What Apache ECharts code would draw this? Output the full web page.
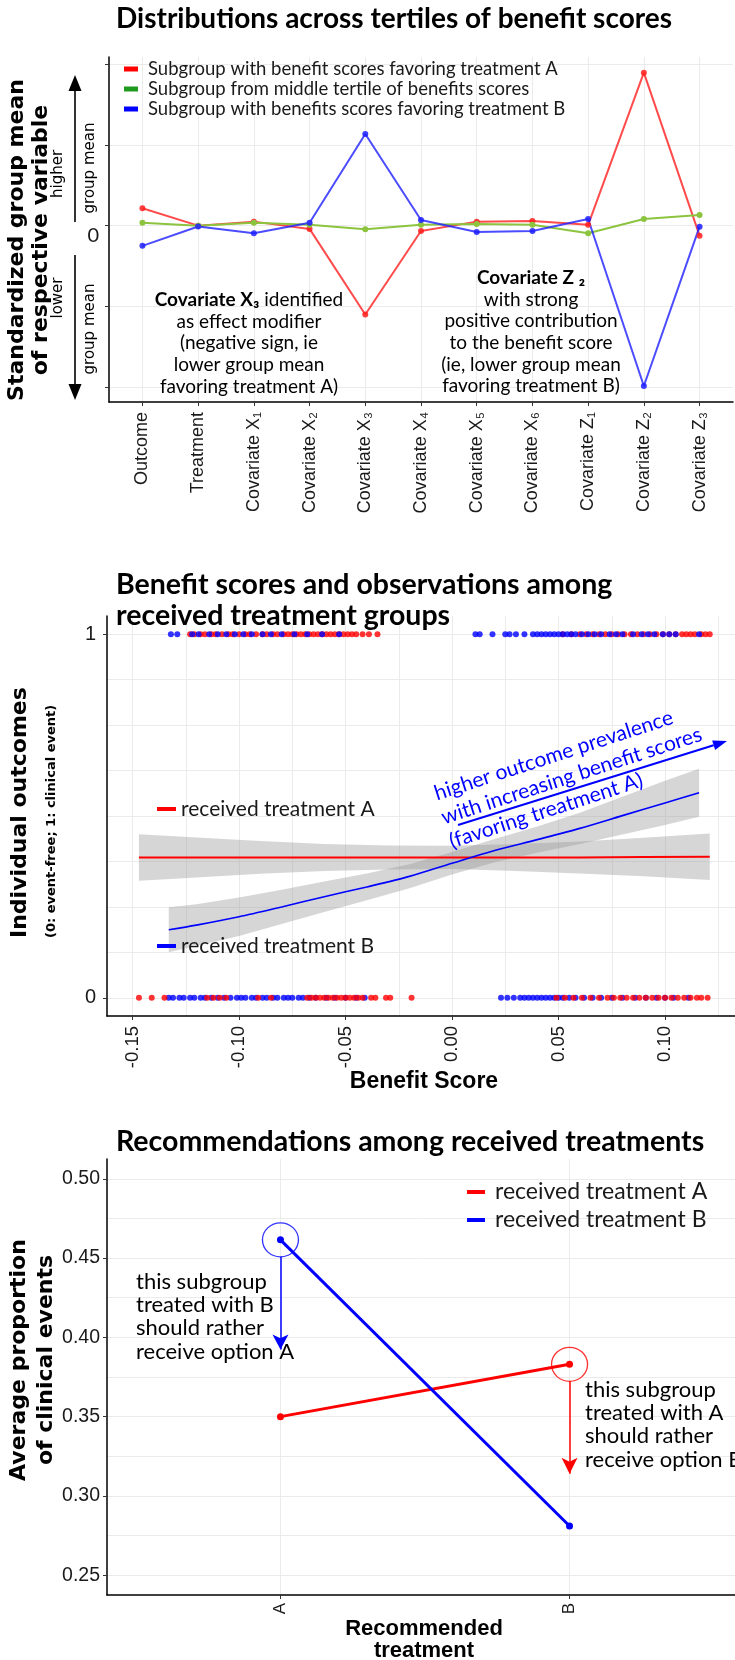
<!DOCTYPE html>
<html><head><meta charset="utf-8"><title>Benefit score charts</title>
<script src="https://cdn.jsdelivr.net/npm/echarts@6.0.0/dist/echarts.min.js"></script>
<style>html,body{margin:0;padding:0;background:#fff;}#chart{width:735px;height:1660px;}</style>
</head><body><div id="chart"></div>
<script>
// ---------------- Panel 1: distributions across tertiles ----------------
const variables = ['Outcome','Treatment','Covariate X\u2081','Covariate X\u2082','Covariate X\u2083','Covariate X\u2084','Covariate X\u2085','Covariate X\u2086','Covariate Z\u2081','Covariate Z\u2082','Covariate Z\u2083'];
const favorA = [0.215, 0, 0.05, -0.04, -1.10, -0.066, 0.05, 0.058, 0.01, 1.896, -0.124];
const middleTertile = [0.037, 0, 0.037, 0.01, -0.045, 0.01, 0.021, 0.01, -0.095, 0.083, 0.133];
const favorB = [-0.25, -0.01, -0.095, 0.037, 1.136, 0.07, -0.078, -0.066, 0.083, -1.987, -0.012];
const p1YTicks = [-2, -1, 0, 1, 2];
const p1YTickLabels = ['', '', '0', '', ''];
const p1Legend = ['Subgroup with benefit scores favoring treatment A','Subgroup from middle tertile of benefits scores','Subgroup with benefits scores favoring treatment B'];

// ---------------- Panel 2: benefit scores and observations ----------------
const p2XTicks = [-0.15, -0.10, -0.05, 0, 0.05, 0.10];
const p2XTickLabels = ['-0.15','-0.10','-0.05','0.00','0.05','0.10'];
const p2XGrid = [-0.15,-0.125,-0.10,-0.075,-0.05,-0.025,0,0.025,0.05,0.075,0.10,0.125];
const p2YTicks = [0, 1];
const p2YTickLabels = ['0', '1'];
const p2YGrid = [0,0.125,0.25,0.375,0.5,0.625,0.75,0.875,1];
// benefit scores of individuals with a clinical event (outcome = 1)
const eventA = [-0.123,-0.121,-0.118,-0.116,-0.113,-0.111,-0.108,-0.105,-0.103,-0.100,-0.097,-0.095,-0.092,-0.089,-0.087,-0.084,-0.082,-0.079,-0.077,-0.075,-0.073,-0.071,-0.069,-0.067,-0.065,-0.063,-0.061,-0.059,-0.057,-0.055,-0.053,-0.051,-0.049,-0.047,-0.045,-0.042,-0.039,-0.035,
  0.052,0.056,0.060,0.063,0.066,0.069,0.072,0.075,0.078,0.081,0.084,0.087,0.090,0.093,0.096,0.099,0.102,0.105,0.108,0.110,0.112,0.114,0.117,0.119,0.121];
const eventB = [-0.132,-0.129,-0.122,-0.119,-0.114,-0.110,-0.106,-0.102,-0.098,-0.094,-0.089,-0.085,-0.080,-0.074,-0.068,-0.061,-0.053,
  0.011,0.013,0.019,0.025,0.027,0.030,0.034,0.038,0.040,0.042,0.044,0.046,0.048,0.050,0.052,0.054,0.056,0.058,0.061,0.064,0.067,0.070,0.074,0.077,0.080,0.085,0.089,0.092,0.095,0.099,0.102,0.105,0.116];
// benefit scores of event-free individuals (outcome = 0)
const freeA = [-0.147,-0.141,-0.135,-0.115,-0.112,-0.109,-0.106,-0.091,-0.085,-0.068,-0.066,-0.064,-0.062,-0.060,-0.058,-0.056,-0.054,-0.052,-0.050,-0.048,-0.046,-0.044,-0.042,-0.038,-0.036,-0.031,-0.029,-0.019,
  0.049,0.053,0.057,0.061,0.065,0.069,0.073,0.076,0.079,0.082,0.085,0.088,0.091,0.094,0.097,0.100,0.103,0.106,0.109,0.112,0.115,0.117,0.120];
const freeB = [-0.133,-0.131,-0.128,-0.126,-0.123,-0.121,-0.118,-0.116,-0.113,-0.110,-0.107,-0.104,-0.101,-0.099,-0.097,-0.094,-0.092,-0.089,-0.087,-0.084,-0.082,-0.079,-0.077,-0.075,-0.072,-0.070,-0.067,-0.064,-0.059,-0.055,-0.050,-0.045,-0.041,
  0.023,0.026,0.029,0.032,0.034,0.036,0.038,0.040,0.042,0.044,0.046,0.048,0.050,0.052,0.055,0.058,0.062,0.066,0.070,0.075,0.080,0.086,0.091,0.096,0.100,0.104,0.111];
// fitted outcome curves with confidence bands
const fitXA = [-0.147,-0.12,-0.09,-0.06,-0.03,0,0.03,0.06,0.09,0.121];
const fitA = [0.386,0.386,0.386,0.386,0.386,0.386,0.386,0.386,0.387,0.388];
const fitALo = [0.322,0.331,0.341,0.349,0.353,0.354,0.349,0.342,0.334,0.324];
const fitAHi = [0.450,0.441,0.431,0.423,0.419,0.418,0.423,0.430,0.440,0.452];
const fitXB = [-0.133,-0.12,-0.10,-0.08,-0.06,-0.04,-0.02,0,0.02,0.04,0.06,0.08,0.10,0.116];
const fitB = [0.187,0.200,0.223,0.250,0.278,0.305,0.334,0.370,0.405,0.435,0.466,0.501,0.536,0.564];
const fitBLo = [0.125,0.143,0.170,0.203,0.236,0.268,0.301,0.339,0.373,0.399,0.423,0.449,0.475,0.498];
const fitBHi = [0.249,0.257,0.276,0.297,0.320,0.342,0.367,0.401,0.437,0.471,0.509,0.553,0.597,0.630];
const p2Legend = ['received treatment A', 'received treatment B'];

// ---------------- Panel 3: recommendations ----------------
const recCats = ['A', 'B'];
const recTreatedA = [0.350, 0.383];
const recTreatedB = [0.4615, 0.281];
const p3YTicks = [0.25, 0.30, 0.35, 0.40, 0.45, 0.50];
const p3YTickLabels = ['0.25','0.30','0.35','0.40','0.45','0.50'];
const p3YGrid = [0.25,0.275,0.30,0.325,0.35,0.375,0.40,0.425,0.45,0.475,0.50];

// ---------------- helpers ----------------
const FONT_C = 'Lato, "Open Sans", sans-serif';
const FONT_A = '"Liberation Sans", Arial, sans-serif';
const FONT_V = '"DejaVu Sans", Verdana, sans-serif';
const GRID_C = '#EBEBEB';
const RED = '#FF0000', BLUE = '#0000FF';

const idx = arr => arr.map((v, i) => [i, v]);
const pairs = (xs, ys) => xs.map((x, i) => [x, ys[i]]);
const atY = (xs, y) => xs.map(x => [x, y]);
const lbl = (ticks, labels) => v => { const i = ticks.findIndex(t => Math.abs(t - v) < 1e-9); return i < 0 ? '' : labels[i]; };

const axisLineStyle = { show: true, onZero: false, lineStyle: { color: '#000', width: 1.5 } };
function mainAxis(o) {
  return Object.assign({
    type: 'value', axisLine: axisLineStyle,
    axisTick: { show: true, length: 4, lineStyle: { color: '#333', width: 1 }, customValues: o.ticks },
    axisLabel: Object.assign({ customValues: o.ticks, formatter: o.fmt, fontFamily: FONT_A, fontSize: 19, color: '#1a1a1a', margin: 9 }, o.label || {}),
    splitLine: { show: false }
  }, o.extra || {});
}
function helperAxis(o) {
  return Object.assign({
    type: 'value', axisLine: { show: false }, axisLabel: { show: false },
    axisTick: { show: false, customValues: o.ticks },
    splitLine: { show: true, lineStyle: { color: GRID_C, width: 1 } }
  }, o.extra || {});
}
function bandSeries(xs, lo, hi, xi, yi) {
  return { type: 'custom', xAxisIndex: xi, yAxisIndex: yi, silent: true, z: 1, clip: true,
    data: xs.map((x, i) => [x, lo[i], hi[i]]),
    renderItem: (params, api) => {
      if (params.dataIndex !== 0) return null;
      const top = xs.map((x, i) => api.coord([x, hi[i]]));
      const bot = xs.map((x, i) => api.coord([x, lo[i]])).reverse();
      return { type: 'polygon', shape: { points: top.concat(bot) }, style: { fill: 'rgba(153,153,153,0.4)' } };
    } };
}

const chart = echarts.init(document.getElementById('chart'));

// ---------------- annotations ----------------
const G = [];
function txt(x, y, text, style, rot) {
  G.push({ type: 'text', x, y, rotation: rot || 0, silent: true, z: 100,
    style: Object.assign({ text, fill: '#000', fontFamily: FONT_C, fontSize: 16, align: 'center', verticalAlign: 'middle' }, style || {}) });
}
function arrow(x1, y1, x2, y2, color, w, hl, hw) {
  const dx = x2 - x1, dy = y2 - y1, L = Math.hypot(dx, dy), ux = dx / L, uy = dy / L;
  const bx = x2 - ux * hl, by = y2 - uy * hl;
  G.push({ type: 'line', silent: true, z: 100, shape: { x1, y1, x2: bx, y2: by }, style: { stroke: color, lineWidth: w } });
  G.push({ type: 'polygon', silent: true, z: 100, shape: { points: [[x2, y2], [bx - uy * hw, by + ux * hw], [bx + uy * hw, by - ux * hw]] }, style: { fill: color } });
}
const R90 = Math.PI / 2;
// panel 1
txt(17, 240, 'Standardized group mean', { fontFamily: FONT_V, fontWeight: 'bold', fontSize: 22 }, R90);
txt(41, 240, 'of respective variable', { fontFamily: FONT_V, fontWeight: 'bold', fontSize: 22 }, R90);
arrow(75, 222, 75, 75, '#000', 1.6, 16, 6.5);
arrow(75, 255, 75, 400, '#000', 1.6, 16, 6.5);
txt(58, 174, 'higher', { fontFamily: FONT_V, fontSize: 15 }, R90);
txt(90, 168, 'group mean', { fontFamily: FONT_V, fontSize: 15 }, R90);
txt(58, 298, 'lower', { fontFamily: FONT_V, fontSize: 15 }, R90);
txt(90, 329, 'group mean', { fontFamily: FONT_V, fontSize: 15 }, R90);
const richB = { b: { fontFamily: FONT_C, fontWeight: 'bold', fontSize: 19, lineHeight: 21.7, fill: '#000' }, n: { fontFamily: FONT_C, fontSize: 19, lineHeight: 21.7, fill: '#000' } };
txt(249, 289, '{b|Covariate X\u2083}{n| identified}\n{n|as effect modifier}\n{n|(negative sign, ie}\n{n|lower group mean}\n{n|favoring treatment A)}',
  { fontSize: 19, lineHeight: 21.7, verticalAlign: 'top', rich: richB });
txt(531, 267, '{b|Covariate Z \u2082}\n{n|with strong}\n{n|positive contribution}\n{n|to the benefit score}\n{n|(ie, lower group mean}\n{n|favoring treatment B)}',
  { fontSize: 19, lineHeight: 21.7, verticalAlign: 'top', rich: richB });
// panel 2
txt(20, 938, 'Individual outcomes', { fontFamily: FONT_V, fontWeight: 'bold', fontSize: 22, align: 'left' }, R90);
txt(52, 938, '(0: event-free; 1: clinical event)', { fontFamily: FONT_V, fontWeight: 'bold', fontSize: 13, align: 'left' }, R90);
txt(424, 1082, 'Benefit Score', { fontFamily: FONT_A, fontWeight: 'bold', fontSize: 23 });
const ROT = 18 * Math.PI / 180;
txt(435, 794, 'higher outcome prevalence', { fill: BLUE, fontSize: 21, align: 'left' }, ROT);
txt(442, 818, 'with increasing benefit scores', { fill: BLUE, fontSize: 21, align: 'left' }, ROT);
txt(450, 842, '(favoring treatment A)', { fill: BLUE, fontSize: 21, align: 'left' }, ROT);
arrow(458, 825, 727, 741, BLUE, 2, 14, 5);
// panel 3
txt(19, 1360, 'Average proportion', { fontFamily: FONT_V, fontWeight: 'bold', fontSize: 22 }, R90);
txt(46, 1360, 'of clinical events', { fontFamily: FONT_V, fontWeight: 'bold', fontSize: 22 }, R90);
txt(424, 1640, 'Recommended\ntreatment', { fontFamily: FONT_A, fontWeight: 'bold', fontSize: 22, lineHeight: 22 });
txt(136, 1270, 'this subgroup\ntreated with B\nshould rather\nreceive option A', { fontSize: 22, lineHeight: 23.3, align: 'left', verticalAlign: 'top' });
txt(585, 1378, 'this subgroup\ntreated with A\nshould rather\nreceive option B', { fontSize: 22, lineHeight: 23.3, align: 'left', verticalAlign: 'top' });

const option = {
  animation: false,
  backgroundColor: '#fff',
  textStyle: { fontFamily: FONT_C },
  title: [
    { text: 'Distributions across tertiles of benefit scores', left: 116, top: 3, padding: 0,
      textStyle: { fontFamily: FONT_C, fontWeight: 'bold', fontSize: 28, lineHeight: 32, color: '#000' } },
    { text: 'Benefit scores and observations among\nreceived treatment groups', left: 116, top: 569, padding: 0,
      textStyle: { fontFamily: FONT_C, fontWeight: 'bold', fontSize: 28.5, lineHeight: 31, color: '#000' } },
    { text: 'Recommendations among received treatments', left: 116, top: 1126, padding: 0,
      textStyle: { fontFamily: FONT_C, fontWeight: 'bold', fontSize: 28.5, lineHeight: 32, color: '#000' } }
  ],
  legend: [
    { orient: 'vertical', left: 124, top: 59, padding: 0, itemWidth: 14, itemHeight: 5, itemGap: 0, icon: 'rect', selectedMode: false,
      textStyle: { fontFamily: FONT_C, fontSize: 18.5, lineHeight: 20, color: '#1a1a1a', padding: [0, 0, 0, 5] },
      data: [{ name: p1Legend[0], itemStyle: { color: RED } }, { name: p1Legend[1], itemStyle: { color: '#1f9a1f' } }, { name: p1Legend[2], itemStyle: { color: BLUE } }] },
    { orient: 'vertical', left: 157, top: 797, padding: 0, itemWidth: 19, itemHeight: 4, icon: 'rect', selectedMode: false,
      textStyle: { fontFamily: FONT_C, fontSize: 21, lineHeight: 24, color: '#1a1a1a' },
      data: [{ name: p2Legend[0], itemStyle: { color: RED } }] },
    { orient: 'vertical', left: 157, top: 934, padding: 0, itemWidth: 19, itemHeight: 4, icon: 'rect', selectedMode: false,
      textStyle: { fontFamily: FONT_C, fontSize: 21, lineHeight: 24, color: '#1a1a1a' },
      data: [{ name: p2Legend[1], itemStyle: { color: BLUE } }] },
    { orient: 'vertical', left: 467, top: 1180, padding: 0, itemWidth: 18, itemHeight: 4, itemGap: 4, icon: 'rect', selectedMode: false,
      textStyle: { fontFamily: FONT_C, fontSize: 23, lineHeight: 24, color: '#1a1a1a', padding: [0, 0, 0, 5] },
      data: [{ name: p2Legend[0], itemStyle: { color: RED } }, { name: p2Legend[1], itemStyle: { color: BLUE } }] }
  ],
  grid: [
    { left: 109, top: 57, width: 624, height: 345, outerBoundsMode: 'none' },
    { left: 107, top: 616, width: 630, height: 400, outerBoundsMode: 'none' },
    { left: 107, top: 1159, width: 636, height: 436, outerBoundsMode: 'none' }
  ],
  xAxis: [
    mainAxis({ ticks: variables.map((_, i) => i), fmt: v => variables[Math.round(v)] || '', label: { rotate: 90, fontSize: 18, margin: 10 },
      extra: { gridIndex: 0, min: -0.6, max: 10.6, splitLine: { show: true, lineStyle: { color: GRID_C } } } }),
    mainAxis({ ticks: p2XTicks, fmt: lbl(p2XTicks, p2XTickLabels), label: { rotate: 90, fontSize: 18.5, margin: 10 },
      extra: { gridIndex: 1, min: -0.162, max: 0.1338 } }),
    helperAxis({ ticks: p2XGrid, extra: { gridIndex: 1, min: -0.162, max: 0.1338 } }),
    mainAxis({ ticks: [0, 1], fmt: lbl([0, 1], recCats), label: { rotate: 90, fontSize: 17, margin: 8 },
      extra: { gridIndex: 2, min: -0.6, max: 1.6, splitLine: { show: true, lineStyle: { color: GRID_C } } } })
  ],
  yAxis: [
    mainAxis({ ticks: p1YTicks, fmt: lbl(p1YTicks, p1YTickLabels), label: { fontFamily: FONT_C, fontSize: 20, verticalAlign: 'top', margin: 10 },
      extra: { gridIndex: 0, min: -2.185, max: 2.09, position: 'left', splitLine: { show: true, lineStyle: { color: GRID_C } } } }),
    mainAxis({ ticks: p2YTicks, fmt: lbl(p2YTicks, p2YTickLabels), label: { fontSize: 20, margin: 11 },
      extra: { gridIndex: 1, min: -0.05, max: 1.05, position: 'left' } }),
    helperAxis({ ticks: p2YGrid, extra: { gridIndex: 1, min: -0.05, max: 1.05, position: 'left' } }),
    mainAxis({ ticks: p3YTicks, fmt: lbl(p3YTicks, p3YTickLabels), label: { fontSize: 19.5, margin: 7 },
      extra: { gridIndex: 2, min: 0.2375, max: 0.5125, position: 'left' } }),
    helperAxis({ ticks: p3YGrid, extra: { gridIndex: 2, min: 0.2375, max: 0.5125, position: 'left' } })
  ],
  graphic: G,
  series: [
    // panel 1: subgroup means
    { type: 'line', name: p1Legend[0], xAxisIndex: 0, yAxisIndex: 0, data: idx(favorA), symbol: 'circle', symbolSize: 6,
      lineStyle: { color: 'rgba(255,30,30,0.8)', width: 2 }, itemStyle: { color: 'rgba(255,30,30,0.85)' } },
    { type: 'line', name: p1Legend[1], xAxisIndex: 0, yAxisIndex: 0, data: idx(middleTertile), symbol: 'circle', symbolSize: 6,
      lineStyle: { color: '#8CC43F', width: 2 }, itemStyle: { color: '#8CC43F' } },
    { type: 'line', name: p1Legend[2], xAxisIndex: 0, yAxisIndex: 0, data: idx(favorB), symbol: 'circle', symbolSize: 6,
      lineStyle: { color: 'rgba(30,30,255,0.8)', width: 2 }, itemStyle: { color: 'rgba(30,30,255,0.85)' } },
    // panel 2: confidence bands
    bandSeries(fitXA, fitALo, fitAHi, 1, 1),
    bandSeries(fitXB, fitBLo, fitBHi, 1, 1),
    // panel 2: observations
    { type: 'scatter', xAxisIndex: 1, yAxisIndex: 1, data: atY(eventA, 1), symbolSize: 6, itemStyle: { color: RED }, z: 2 },
    { type: 'scatter', xAxisIndex: 1, yAxisIndex: 1, data: atY(eventB, 1), symbolSize: 6, itemStyle: { color: BLUE }, z: 3 },
    { type: 'scatter', xAxisIndex: 1, yAxisIndex: 1, data: atY(freeB, 0), symbolSize: 6, itemStyle: { color: BLUE }, z: 2 },
    { type: 'scatter', xAxisIndex: 1, yAxisIndex: 1, data: atY(freeA, 0), symbolSize: 6, itemStyle: { color: RED }, z: 3 },
    // panel 2: fitted curves
    { type: 'line', name: p2Legend[0], xAxisIndex: 1, yAxisIndex: 1, data: pairs(fitXA, fitA), symbol: 'none', lineStyle: { color: RED, width: 2 }, itemStyle: { color: RED }, z: 4 },
    { type: 'line', name: p2Legend[1], xAxisIndex: 1, yAxisIndex: 1, data: pairs(fitXB, fitB), symbol: 'none', smooth: 0.3, lineStyle: { color: BLUE, width: 1.6 }, itemStyle: { color: BLUE }, z: 4 },
    // panel 3
    { type: 'line', name: p2Legend[0], xAxisIndex: 3, yAxisIndex: 3, data: idx(recTreatedA), symbol: 'circle', symbolSize: 7,
      lineStyle: { color: RED, width: 3 }, itemStyle: { color: RED }, z: 4,
      markLine: { silent: true, symbol: ['none', 'arrow'], symbolSize: [12, 16], label: { show: false }, lineStyle: { color: RED, width: 1.5, type: 'solid' },
        data: [[{ coord: [1, 0.3725] }, { coord: [1, 0.3139] }]] } },
    { type: 'line', name: p2Legend[1], xAxisIndex: 3, yAxisIndex: 3, data: idx(recTreatedB), symbol: 'circle', symbolSize: 7,
      lineStyle: { color: BLUE, width: 3 }, itemStyle: { color: BLUE }, z: 4,
      markLine: { silent: true, symbol: ['none', 'arrow'], symbolSize: [12, 15], label: { show: false }, lineStyle: { color: BLUE, width: 1.5, type: 'solid' },
        data: [[{ coord: [0, 0.4508] }, { coord: [0, 0.3923] }]] } },
    { type: 'scatter', xAxisIndex: 3, yAxisIndex: 3, data: [[0, recTreatedB[0]]], symbol: 'circle', symbolSize: [36, 34],
      itemStyle: { color: 'rgba(0,0,0,0)', borderColor: BLUE, borderWidth: 1.3 }, z: 5, silent: true },
    { type: 'scatter', xAxisIndex: 3, yAxisIndex: 3, data: [[1, recTreatedA[1]]], symbol: 'circle', symbolSize: [36, 34],
      itemStyle: { color: 'rgba(0,0,0,0)', borderColor: RED, borderWidth: 1.3 }, z: 5, silent: true }
  ]
};
chart.setOption(option);
</script></body></html>
